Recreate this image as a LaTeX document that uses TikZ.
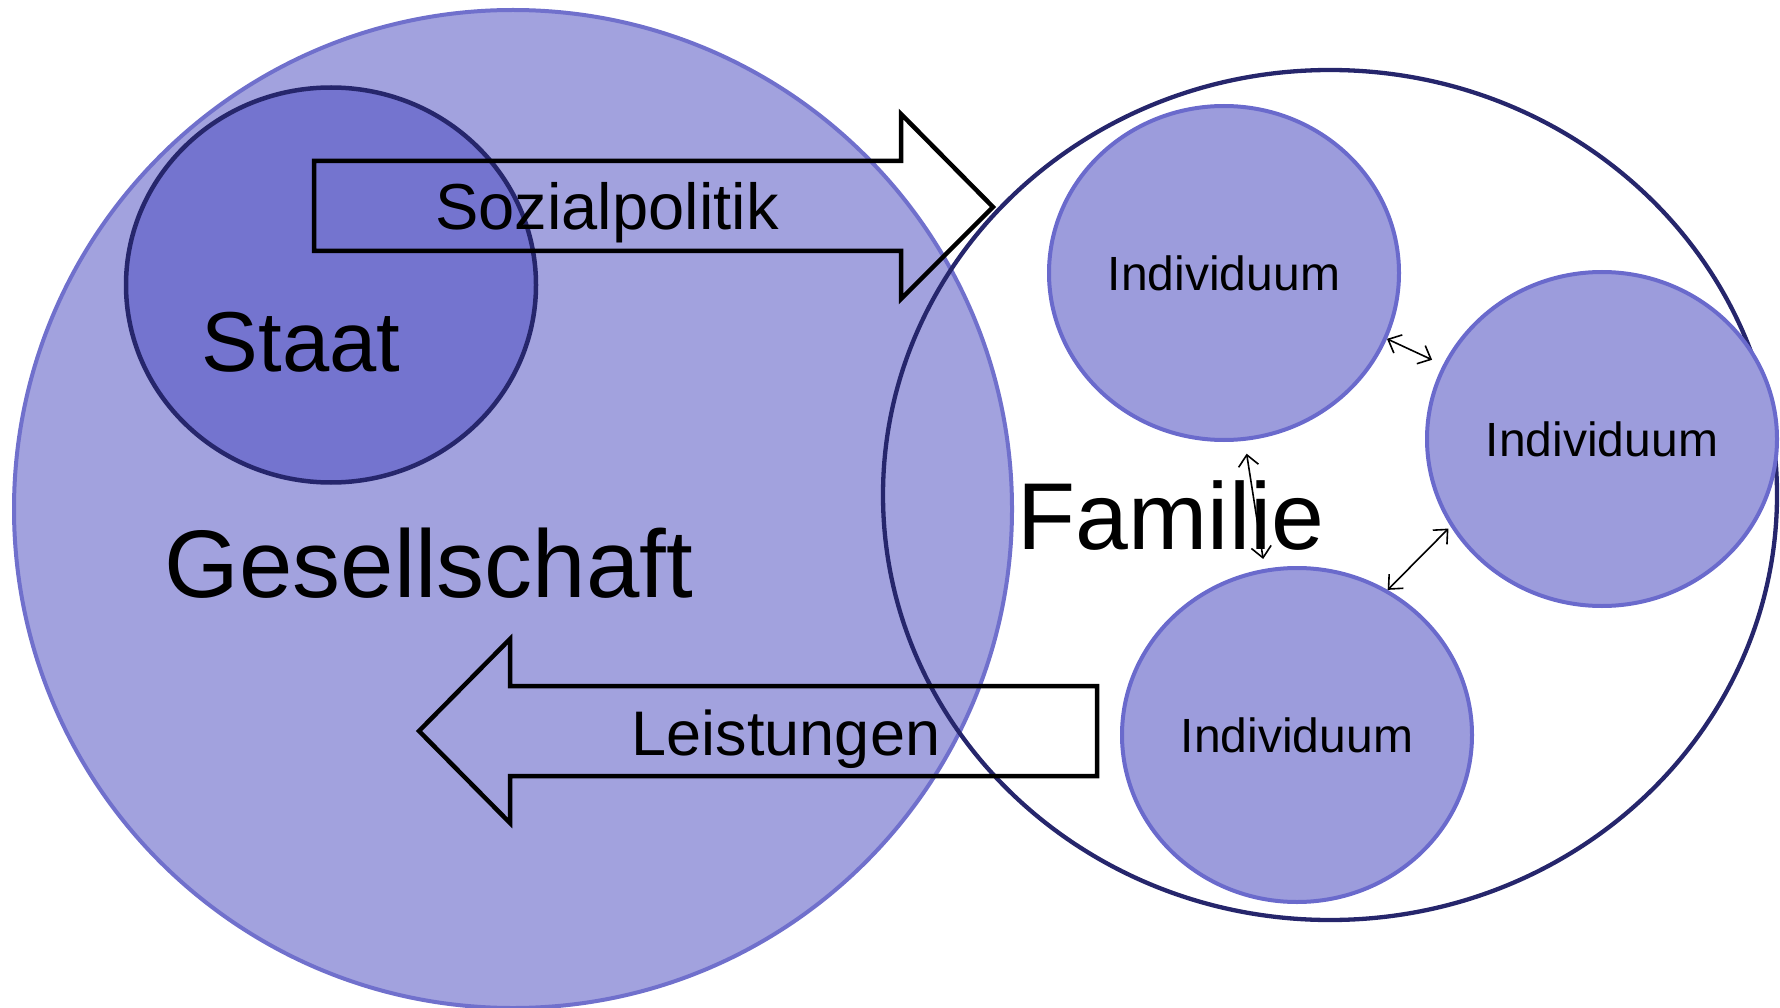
\documentclass[tikz,border=0pt]{standalone}
\usepackage{fontspec}
\setmainfont{Liberation Sans}
\usetikzlibrary{shapes.geometric,arrows.meta}
\definecolor{gesfill}{HTML}{A2A2DE}
\definecolor{gesline}{HTML}{7070CC}
\definecolor{staatfill}{HTML}{7474CF}
\definecolor{navy}{HTML}{26266C}
\definecolor{indfill}{HTML}{9C9CDC}
\definecolor{indline}{HTML}{6A6ACC}
\tikzset{
  famring/.style={ellipse, draw=navy, line width=4.3pt, inner sep=0pt},
  gesring/.style={ellipse, draw=gesline, fill=gesfill, line width=4pt, inner sep=0pt},
  staatring/.style={ellipse, draw=navy, fill=staatfill, line width=4.5pt, inner sep=0pt},
  indring/.style={ellipse, draw=indline, fill=indfill, line width=4pt, inner sep=0pt,
     minimum width=350pt, minimum height=334pt, font=\fontsize{48}{56}\selectfont},
  bigarrow/.style={draw=black, line width=4.5pt, line join=miter},
  link/.style={line width=1.6pt, {Straight Barb[length=11pt,width=20pt]}-{Straight Barb[length=11pt,width=20pt]}},
  lbl/.style={anchor=base, inner sep=0pt, text=black}
}
\begin{document}
\begin{tikzpicture}[x=1pt,y=-1pt]
\useasboundingbox (0,0) rectangle (1780,1008);
% Gesellschaft
\node[gesring, minimum width=998pt, minimum height=998pt] (ges) at (513,509) {};
% Familie
\node[famring, minimum width=894pt, minimum height=850pt] (fam) at (1330,495) {};
% Staat
\node[staatring, minimum width=410pt, minimum height=395pt] (staat) at (331,285) {};
% Individuen
\node[indring] (i1) at (1224,273) {Individuum};
\node[indring] (i2) at (1602,439) {Individuum};
\node[indring] (i3) at (1297,735) {Individuum};
% links
\draw[link, shorten >=12pt] (i1.-22) -- (i2.155);
\draw[link, shorten <=13pt, shorten >=10pt] (i1.-83) -- (i3.101);
\draw[link, shorten >=3pt] (i3.58) -- (i2.-150);
% big arrows
\draw[bigarrow] (314,161) -- (901,161) -- (901,114) -- (993,207) -- (901,299) -- (901,251) -- (314,251) -- cycle;
\draw[bigarrow] (1097,686) -- (510,686) -- (510,639) -- (419,731) -- (510,823) -- (510,776) -- (1097,776) -- cycle;
% labels
\node[lbl, font=\fontsize{65}{75}\selectfont] (tsoz) at (607,230) {Sozialpolitik};
\node[lbl, font=\fontsize{63}{72}\selectfont] (tleist) at (786,755) {Leistungen};
\node[lbl, font=\fontsize{85}{96}\selectfont] (tstaat) at (301,371) {Staat};
\node[lbl, font=\fontsize{96}{110}\selectfont] (tges) at (429,597) {Gesellschaft};
\node[lbl, font=\fontsize{95}{110}\selectfont] (tfam) at (1171,549) {Familie};
\end{tikzpicture}
\end{document}
